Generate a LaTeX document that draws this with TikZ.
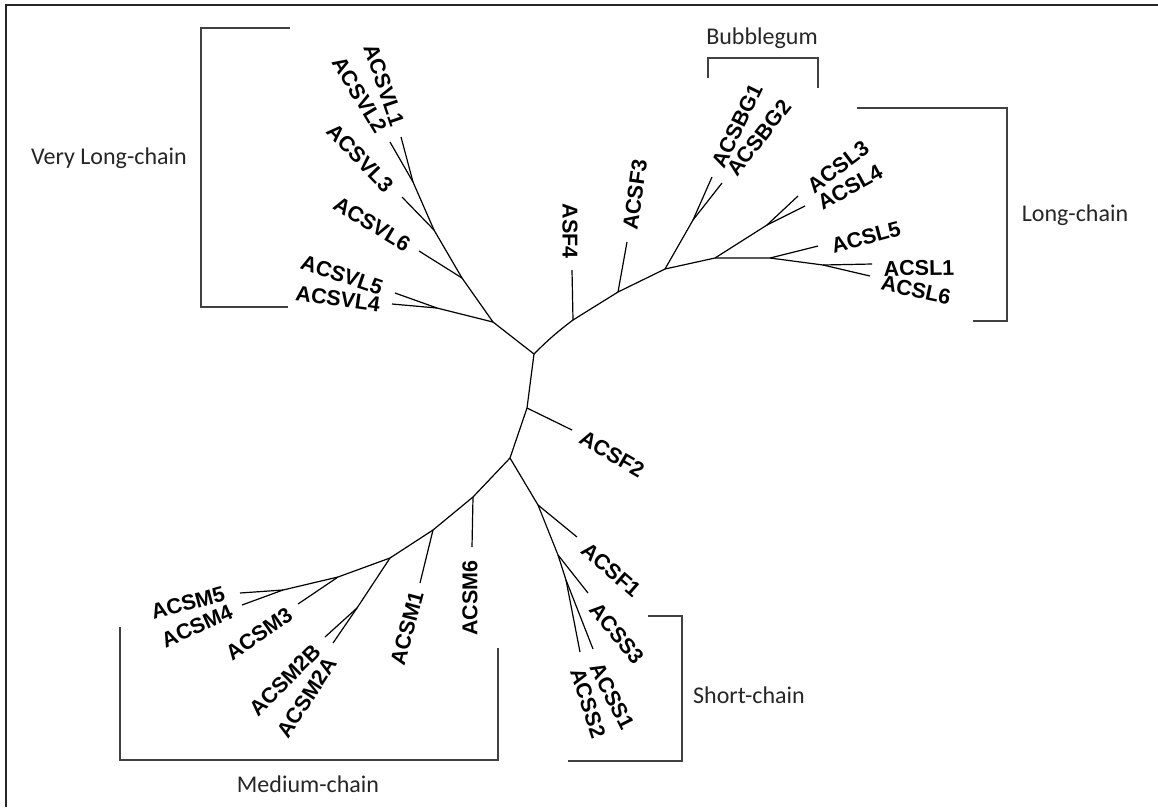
\documentclass[tikz,border=0pt]{standalone}
\usepackage{fontspec}
\setmainfont{Liberation Sans}
\newfontfamily\grpfont{Carlito}
\begin{document}
\begin{tikzpicture}[x=1pt,y=-1pt,
  edge/.style={line width=1.2pt,black},
  brk/.style={line width=1.4pt,black!75},
  leaf/.style={font=\fontsize{21.5}{21.5}\selectfont\bfseries,inner sep=0pt,text=black},
  grp/.style={font=\grpfont\fontsize{24}{24}\selectfont,text=black!85,inner sep=0pt}]
\useasboundingbox (0,0) rectangle (1158,807);
\fill[white] (0,0) rectangle (1158,807);
% frame
\draw[line width=2pt,black!85] (6,807) -- (6,5) -- (1158,5);
% junctions
\coordinate (JA) at (534,354);
\coordinate (JB) at (527,408);
\coordinate (JC) at (510,458);
% very long chain
\coordinate (V45) at (493,322);
\coordinate (V45s) at (437,308);
\coordinate (V6j) at (462,278);
\coordinate (V3j) at (434,230);
\coordinate (V12) at (413,182);
\coordinate (eVL1) at (401,137);
\coordinate (eVL2) at (390,142);
\coordinate (eVL3) at (402,197);
\coordinate (eVL6) at (419,251);
\coordinate (eVL5) at (395,293);
\coordinate (eVL4) at (392,304);
% long side
\coordinate (T1) at (573,320);
\coordinate (T2) at (618,292);
\coordinate (T3) at (665,269);
\coordinate (T4) at (715,258);
\coordinate (T5) at (770,258);
\coordinate (T6) at (823,265);
\coordinate (BGs) at (693,220);
\coordinate (L34) at (767,225);
\coordinate (eASF4) at (572,270);
\coordinate (eF3) at (627,242);
\coordinate (eBG1) at (712,177);
\coordinate (eBG2) at (722,183);
\coordinate (eL3) at (798,196);
\coordinate (eL4) at (805,206);
\coordinate (eL5) at (818,246);
\coordinate (eL1) at (872,264);
\coordinate (eL6) at (870,276);
% ACSF2
\coordinate (eF2) at (572,430);
% medium
\coordinate (M1) at (473,497);
\coordinate (M2) at (433,530);
\coordinate (M3) at (390,558);
\coordinate (M4) at (338,577);
\coordinate (M5) at (283,590);
\coordinate (M2s) at (357,608);
\coordinate (eM6) at (472,547);
\coordinate (eM1) at (420,583);
\coordinate (eM2B) at (325,637);
\coordinate (eM2A) at (333,643);
\coordinate (eM3) at (298,604);
\coordinate (eM5) at (240,593);
\coordinate (eM4) at (242,605);
% short
\coordinate (S1) at (538,505);
\coordinate (S2) at (558,555);
\coordinate (S3) at (566,580);
\coordinate (eF1) at (577,537);
\coordinate (eS3) at (588,593);
\coordinate (eS1) at (593,649);
\coordinate (eS2) at (580,652);

% edges
\draw[edge] (JA) -- (JB) -- (JC);
\draw[edge] (JB) -- (eF2);
\draw[edge] (JA) -- (V45) -- (V6j) -- (V3j) -- (V12) -- (eVL1);
\draw[edge] (V12) -- (eVL2);
\draw[edge] (V3j) -- (eVL3);
\draw[edge] (V6j) -- (eVL6);
\draw[edge] (V45) -- (V45s) -- (eVL4);
\draw[edge] (V45s) -- (eVL5);
\draw[edge] (JA) to[bend left=4] (T1) -- (T2) -- (T3) -- (T4) -- (T5) -- (T6) -- (eL1);
\draw[edge] (T6) -- (eL6);
\draw[edge] (T5) -- (eL5);
\draw[edge] (T1) -- (eASF4);
\draw[edge] (T2) -- (eF3);
\draw[edge] (T3) -- (BGs) -- (eBG1);
\draw[edge] (BGs) -- (eBG2);
\draw[edge] (T4) -- (L34) -- (eL3);
\draw[edge] (L34) -- (eL4);
\draw[edge] (JC) -- (M1) -- (M2) -- (M3) -- (M4) -- (M5) -- (eM5);
\draw[edge] (M5) -- (eM4);
\draw[edge] (M4) -- (eM3);
\draw[edge] (M3) -- (M2s) -- (eM2B);
\draw[edge] (M2s) -- (eM2A);
\draw[edge] (M2) -- (eM1);
\draw[edge] (M1) -- (eM6);
\draw[edge] (JC) -- (S1) -- (S2) -- (S3) -- (eS2);
\draw[edge] (S3) -- (eS1);
\draw[edge] (S2) -- (eS3);
\draw[edge] (S1) -- (eF1);

% labels
\node[leaf,rotate=-71] (lVL1) at (384,85) {ACSVL1};
\node[leaf,rotate=-59] (lVL2) at (360,95) {ACSVL2};
\node[leaf,rotate=-46] (lVL3) at (360,158) {ACSVL3};
\node[leaf,rotate=-31] (lVL6) at (372,224) {ACSVL6};
\node[leaf,rotate=-19] (lVL5) at (342,275) {ACSVL5};
\node[leaf,rotate=-8] (lVL4) at (338,299) {ACSVL4};
\node[leaf,rotate=-90] (lASF4) at (570,231) {ASF4};
\node[leaf,rotate=82] (lF3) at (635,195) {ACSF3};
\node[leaf,rotate=64] (lBG1) at (737,126) {ACSBG1};
\node[leaf,rotate=52] (lBG2) at (759,138) {ACSBG2};
\node[leaf,rotate=37] (lL3) at (838,167) {ACSL3};
\node[leaf,rotate=29] (lL4) at (850,187) {ACSL4};
\node[leaf,rotate=15] (lL5) at (866,237) {ACSL5};
\node[leaf,rotate=1] (lL1) at (919,268) {ACSL1};
\node[leaf,rotate=-12] (lL6) at (916,290) {ACSL6};
\node[leaf,rotate=-30] (lF2) at (612,454) {ACSF2};
\node[leaf,rotate=-41] (lF1) at (611,570) {ACSF1};
\node[leaf,rotate=-50] (lS3) at (617,633) {ACSS3};
\node[leaf,rotate=-63] (lS1) at (612,696) {ACSS1};
\node[leaf,rotate=-72] (lS2) at (588,703) {ACSS2};
\node[leaf,rotate=90] (lM6) at (470,598) {ACSM6};
\node[leaf,rotate=75] (lM1) at (407,628) {ACSM1};
\node[leaf,rotate=57] (lM2A) at (307,697) {ACSM2A};
\node[leaf,rotate=45] (lM2B) at (285,680) {ACSM2B};
\node[leaf,rotate=35] (lM3) at (259,634) {ACSM3};
\node[leaf,rotate=24] (lM4) at (197,626) {ACSM4};
\node[leaf,rotate=15] (lM5) at (188,603) {ACSM5};

% brackets
\draw[brk] (290,28) -- (201,28) -- (201,307) -- (288,307);
\node[grp] (gVL) at (109,158) {Very Long-chain};
\draw[brk] (708,78) -- (708,58) -- (818,58) -- (818,88);
\node[grp] (gBG) at (762,38) {Bubblegum};
\draw[brk] (857,108) -- (1007,108) -- (1007,321) -- (973,321);
\node[grp] (gL) at (1075,215) {Long-chain};
\draw[brk] (648,616) -- (682,616) -- (682,761) -- (568,761);
\node[grp] (gS) at (749,695) {Short-chain};
\draw[brk] (120,627) -- (120,760) -- (498,760) -- (498,648);
\node[grp] (gM) at (308,784) {Medium-chain};
\end{tikzpicture}
\end{document}
